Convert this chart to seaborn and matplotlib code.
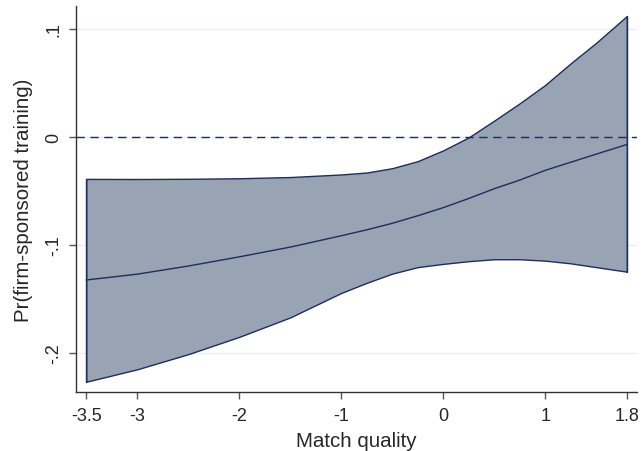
import numpy as np
import pandas as pd
import matplotlib
matplotlib.use("Agg")
import matplotlib.pyplot as plt
import seaborn as sns

# Data
match_quality = [-3.5, -3.0, -2.5, -2.0, -1.5, -1.0, -0.75, -0.5, -0.25, 0.0,
                 0.25, 0.5, 0.75, 1.0, 1.25, 1.5, 1.8]
margin = [-0.1324, -0.127, -0.1195, -0.111, -0.102, -0.0915, -0.086, -0.080, -0.073, -0.0655,
          -0.057, -0.048, -0.040, -0.031, -0.0235, -0.016, -0.0071]
ci_upper = [-0.0389, -0.039, -0.0388, -0.0383, -0.0372, -0.0348, -0.033, -0.029, -0.0225, -0.0125,
            -0.0005, 0.015, 0.031, 0.048, 0.068, 0.087, 0.1117]
ci_lower = [-0.2265, -0.215, -0.201, -0.185, -0.167, -0.1444, -0.135, -0.1265, -0.1205, -0.1175,
            -0.115, -0.1132, -0.1132, -0.1145, -0.117, -0.1205, -0.1247]

xticks = [-3.5, -3, -2, -1, 0, 1, 1.8]
xticklabels = ["-3.5", "-3", "-2", "-1", "0", "1", "1.8"]
yticks = [0.1, 0.0, -0.1, -0.2]
yticklabels = [".1", "0", "-.1", "-.2"]

df = pd.DataFrame({"x": match_quality, "y": margin, "lo": ci_lower, "hi": ci_upper})

sns.set_style("white")
plt.rcParams["font.family"] = ["Liberation Sans", "DejaVu Sans"]

line_col = "#1f2d5c"
fill_col = "#98a3b4"

fig = plt.figure(figsize=(6.41, 4.52), dpi=100)
ax = fig.add_axes([0.1186, 0.1305, 0.8752, 0.854])

for yv in yticks:
    ax.axhline(yv, color="#e6eef1", lw=1.0, zorder=0)

ax.fill_between(df["x"], df["lo"], df["hi"], facecolor=fill_col, edgecolor=line_col, lw=1.0, zorder=2)
ax.plot([df["x"].iloc[0]] * 2, [df["lo"].iloc[0], df["hi"].iloc[0]], color=line_col, lw=1.0, zorder=3)
ax.plot([df["x"].iloc[-1]] * 2, [df["lo"].iloc[-1], df["hi"].iloc[-1]], color=line_col, lw=1.0, zorder=3)
sns.lineplot(data=df, x="x", y="y", ax=ax, color=line_col, lw=1.0, zorder=4)
ax.axhline(0, color=line_col, lw=1.0, ls=(0, (6, 4)), zorder=5)

ax.set_xlim(-3.6, 1.9)
ax.set_ylim(-0.236, 0.121)
ax.set_xticks(xticks)
ax.set_xticklabels(xticklabels)
ax.set_yticks(yticks)
ax.set_yticklabels(yticklabels, rotation=90, va="center")

ax.set_xlabel("Match quality", fontsize=14.8, labelpad=4.5)
ax.set_ylabel("Pr(firm-sponsored training)", fontsize=14.8, labelpad=9)
ax.tick_params(axis="both", labelsize=13, length=5, width=1, color="#555555", direction="out", bottom=True, left=True)
ax.tick_params(axis="x", pad=6)
ax.tick_params(axis="y", pad=5)

for s in ["top", "right"]:
    ax.spines[s].set_visible(False)
for s in ["left", "bottom"]:
    ax.spines[s].set_color("#333333")
    ax.spines[s].set_linewidth(1.0)

fig.savefig("out.png", dpi=100)
